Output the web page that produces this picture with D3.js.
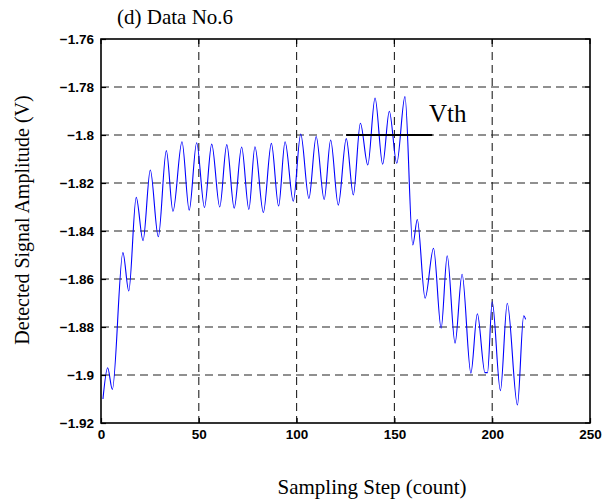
<!DOCTYPE html>
<html><head><meta charset="utf-8">
<script src="https://cdn.jsdelivr.net/npm/d3@7"></script>
<style>html,body{margin:0;padding:0;background:#fff;}</style>
</head><body><svg id="c" width="611" height="504"></svg>
<script>
// Data (extrema of the trace)
const stepX = [1.0,3.4,5.8,11.2,14.2,18.0,21.5,25.2,29.3,33.4,36.8,41.4,45.1,48.9,52.9,56.6,60.7,64.3,68.1,71.9,75.6,78.7,83.0,87.1,90.8,94.1,98.3,102.1,106.3,110.0,114.1,117.4,121.3,125.4,129.0,132.6,136.4,140.1,144.0,147.4,151.2,155.4,159.4,161.7,165.7,170.0,173.9,177.0,181.0,184.6,189.1,192.4,196.3,197.6,200.0,204.2,207.7,212.9,216.1,217.1];
const amplitude = [-1.910,-1.897,-1.906,-1.849,-1.865,-1.826,-1.844,-1.8146,-1.8424,-1.8065,-1.8318,-1.8028,-1.8313,-1.8032,-1.8302,-1.8038,-1.830,-1.804,-1.8305,-1.805,-1.831,-1.8049,-1.8323,-1.8035,-1.8296,-1.8028,-1.8276,-1.7996,-1.8264,-1.8006,-1.8269,-1.8021,-1.8292,-1.8015,-1.825,-1.7951,-1.8125,-1.7846,-1.8122,-1.7901,-1.8118,-1.784,-1.8458,-1.8352,-1.868,-1.8472,-1.8805,-1.8503,-1.8867,-1.858,-1.8992,-1.8745,-1.899,-1.899,-1.8695,-1.9065,-1.8701,-1.9125,-1.8753,-1.8768];
const vthX = [125.3, 169.4];
const vthY = -1.80;
const xTicks = [0,50,100,150,200,250];
const yTicks = [-1.92,-1.9,-1.88,-1.86,-1.84,-1.82,-1.8,-1.78,-1.76];
const xDomain = [0,250];
const yDomain = [-1.92,-1.76];

const svg = d3.select('#c');
const L = 101, R = 590, T = 39, B = 423;
const x = d3.scaleLinear().domain(xDomain).range([L,R]);
const y = d3.scaleLinear().domain(yDomain).range([B,T]);

// grid
const g = svg.append('g');
g.selectAll('.gx').data(xTicks.slice(1,-1)).enter().append('line')
  .attr('x1',d=>x(d)).attr('x2',d=>x(d)).attr('y1',T).attr('y2',B)
  .attr('stroke','#222').attr('stroke-width',1.1).attr('stroke-dasharray','8,5');
g.selectAll('.gy').data(yTicks.slice(1,-1)).enter().append('line')
  .attr('y1',d=>y(d)).attr('y2',d=>y(d)).attr('x1',L).attr('x2',R)
  .attr('stroke','#222').attr('stroke-width',1.1).attr('stroke-dasharray','8,5');

// data line
const pts = stepX.map((v,i)=>[v,amplitude[i]]);
svg.append('path').datum(pts)
  .attr('d', d3.line().x(d=>x(d[0])).y(d=>y(d[1])).curve(d3.curveMonotoneX))
  .attr('fill','none').attr('stroke','#0000ff').attr('stroke-width',1.1);

// Vth
svg.append('line').attr('x1',x(vthX[0])).attr('x2',x(vthX[1]))
  .attr('y1',y(vthY)).attr('y2',y(vthY)).attr('stroke','#000').attr('stroke-width',2);
svg.append('text').attr('x',429).attr('y',122).text('Vth')
  .attr('font-family','Liberation Serif').attr('font-size',25).attr('fill','#000');

// axes
const tickFont = s => s.attr('font-family','Liberation Sans').attr('font-weight','bold').attr('font-size',13.5).attr('fill','#000');
const fmt = d => d3.format('')(d).replace('-','\u2212');
const ax = svg.append('g').attr('transform',`translate(0,${B})`)
  .call(d3.axisBottom(x).tickValues(xTicks).tickSize(-5).tickPadding(6).tickFormat(d=>d));
ax.select('.domain').remove();
ax.selectAll('line').attr('stroke','#000').attr('stroke-width',1.2);
ax.selectAll('text').call(tickFont);
const ay = svg.append('g').attr('transform',`translate(${L},0)`)
  .call(d3.axisLeft(y).tickValues(yTicks).tickSize(-5).tickPadding(7).tickFormat(fmt));
ay.select('.domain').remove();
ay.selectAll('line').attr('stroke','#000').attr('stroke-width',1.2);
ay.selectAll('text').call(tickFont);
// right and top ticks
svg.selectAll('.rt').data(yTicks).enter().append('line')
  .attr('x1',R).attr('x2',R-5).attr('y1',d=>y(d)).attr('y2',d=>y(d)).attr('stroke','#000').attr('stroke-width',1.2);
svg.selectAll('.tt').data(xTicks).enter().append('line')
  .attr('y1',T).attr('y2',T+5).attr('x1',d=>x(d)).attr('x2',d=>x(d)).attr('stroke','#000').attr('stroke-width',1.2);

svg.append('rect').attr('x',L).attr('y',T).attr('width',R-L).attr('height',B-T)
  .attr('fill','none').attr('stroke','#000').attr('stroke-width',1.6);

// titles
svg.append('text').attr('x',117).attr('y',24).text('(d) Data No.6')
  .attr('font-family','Liberation Serif').attr('font-size',21).attr('fill','#000');
svg.append('text').attr('x',372).attr('y',494).attr('text-anchor','middle').text('Sampling Step (count)')
  .attr('font-family','Liberation Serif').attr('font-size',21).attr('fill','#000');
svg.append('text').attr('transform','translate(29,220) rotate(-90)').attr('text-anchor','middle')
  .text('Detected Signal Amplitude (V)')
  .attr('font-family','Liberation Serif').attr('font-size',20).attr('fill','#000');
</script></body></html>
